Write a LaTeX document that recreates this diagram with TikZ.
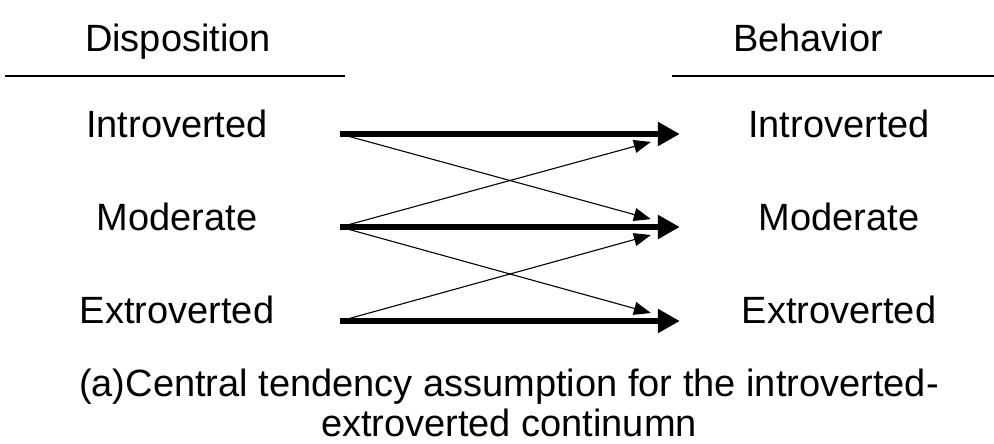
\documentclass[tikz,border=0pt]{standalone}
\usepackage{fontspec}
\setmainfont{Liberation Sans}
\usetikzlibrary{arrows.meta}

\begin{document}
\begin{tikzpicture}[x=1pt, y=-1pt,
    lab/.style={font=\fontsize{38}{40}\selectfont, inner sep=0pt, anchor=base},
    leftlab/.style={lab, minimum width=326pt},
    rightlab/.style={lab, minimum width=318pt},
    bigarrow/.style={line width=5.5pt, -{Triangle[length=22pt, width=23pt]}},
    smallarrow/.style={line width=1.1pt, -{Triangle[length=17pt, width=13pt]}, shorten >=30pt}]
				\useasboundingbox (0,0) rectangle (994,444);

				% headers
				\node (disp) [lab] at (178,52) {Disposition};
				\node (beh) [lab] at (808,52) {Behavior};
				\draw[line width=1.2pt] (5,76) -- (345,76);
				\draw[line width=1.2pt] (672,76) -- (994,76);

				% disposition levels
				\node (dI) [leftlab] at (177,137) {Introverted};
				\node (dM) [leftlab] at (177,230) {Moderate};
				\node (dE) [leftlab] at (177,323) {Extroverted};

				% behavior levels
				\node (bI) [rightlab] at (839,137) {Introverted};
				\node (bM) [rightlab] at (839,230) {Moderate};
				\node (bE) [rightlab] at (839,323) {Extroverted};

				\draw[bigarrow] ([yshift=3pt]dI.base east) -- ([yshift=3pt]bI.base west);
				\draw[bigarrow] ([yshift=3pt]dM.base east) -- ([yshift=3pt]bM.base west);
				\draw[bigarrow] ([yshift=2pt]dE.base east) -- ([yshift=2pt]bE.base west);

				\draw[smallarrow] ([yshift=3pt]dI.base east) -- ([yshift=3pt]bM.base west);
				\draw[smallarrow] ([yshift=3pt]dM.base east) -- ([yshift=3pt]bI.base west);
				\draw[smallarrow] ([yshift=3pt]dM.base east) -- ([yshift=2pt]bE.base west);
				\draw[smallarrow] ([yshift=2pt]dE.base east) -- ([yshift=3pt]bM.base west);

				% caption
				\node (cap) [font=\fontsize{38}{40}\selectfont, align=center, inner sep=0pt, anchor=north] at (509,369)
					{(a)Central tendency assumption for the introverted-\\extroverted continumn};
\end{tikzpicture}
\end{document}
